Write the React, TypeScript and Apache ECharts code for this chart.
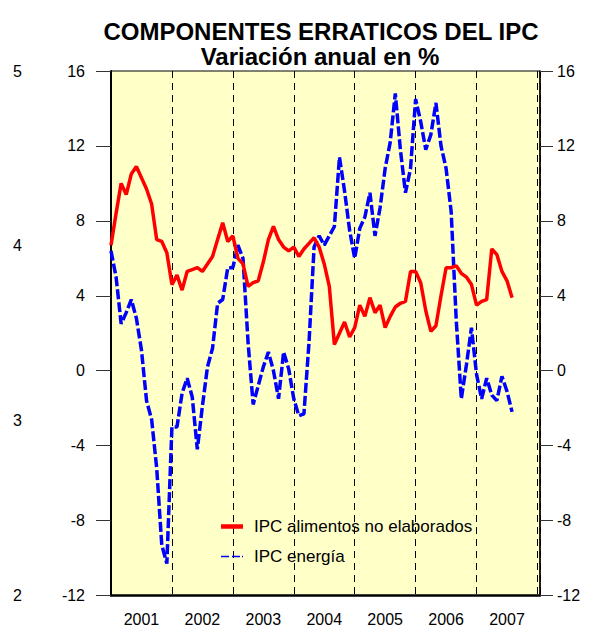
import React, { useEffect, useRef } from 'react';
import * as echarts from 'echarts';

const years = ['2001', '2002', '2003', '2004', '2005', '2006', '2007'];

// Monthly values from Jan 2001 (index 0) to Aug 2007
const alimentos = [
  6.7, 8.4, 10.0, 9.4, 10.5, 10.9, 10.3, 9.7, 8.9, 7.0,
  6.9, 6.3, 4.6, 5.1, 4.3, 5.3, 5.4, 5.5, 5.3, 5.7,
  6.1, 7.0, 7.9, 6.9, 7.2, 6.0, 5.7, 4.5, 4.7, 4.8,
  5.8, 7.0, 7.7, 7.0, 6.6, 6.4, 6.6, 6.1, 6.5, 6.8,
  7.1, 6.6, 5.7, 4.5, 1.4, 2.0, 2.6, 1.8, 2.3, 3.5,
  2.9, 3.9, 3.1, 3.5, 2.3, 2.9, 3.4, 3.6, 3.7, 5.3,
  5.3, 4.7, 3.2, 2.1, 2.4, 4.0, 5.5, 5.5, 5.6, 5.2,
  5.0, 4.6, 3.5, 3.7, 3.8, 6.5, 6.2, 5.3, 4.8, 3.9,
];

const energia = [
  6.4, 5.0, 2.5, 3.1, 3.8, 2.8, 1.1, -1.6, -2.6, -5.2,
  -9.3, -10.3, -3.0, -3.0, -1.2, -0.4, -1.4, -4.2, -1.9, 0.2,
  1.2, 3.6, 3.8, 5.5, 5.5, 6.7, 6.0, 1.5, -1.8, -0.8,
  0.2, 1.0, 0.0, -1.5, 1.0, 0.1, -1.5, -2.4, -2.3, 1.5,
  6.6, 7.2, 6.7, 7.2, 7.7, 11.4, 9.6, 7.5, 6.0, 7.6,
  8.2, 9.5, 7.2, 8.7, 10.8, 12.2, 14.8, 11.8, 9.5, 10.8,
  14.5, 13.3, 11.8, 12.6, 14.3, 12.0, 10.8, 8.5, 2.7, -1.5,
  0.3, 2.3, -0.2, -1.5, -0.4, -1.3, -1.6, -0.3, -1.1, -2.2,
];

const serieAlimentos = 'IPC alimentos no elaborados';
const serieEnergia = 'IPC energía';

const FONT = '"Liberation Sans", Arial, sans-serif';

export default function App() {
  const ref = useRef<HTMLDivElement>(null);

  useEffect(() => {
    const chart = echarts.init(ref.current!, null, { renderer: 'svg' });
    chart.setOption({
      animation: false,
      backgroundColor: '#ffffff',
      textStyle: { fontFamily: FONT },
      graphic: [
        {
          type: 'text',
          x: 321,
          y: 31,
          style: {
            text: 'COMPONENTES ERRATICOS DEL IPC',
            fontSize: 24,
            fontWeight: 'bold',
            fontFamily: FONT,
            fill: '#000',
            align: 'center',
            verticalAlign: 'middle',
          },
        },
        {
          type: 'text',
          x: 320,
          y: 56,
          style: {
            text: 'Variación anual en %',
            fontSize: 24,
            fontWeight: 'bold',
            fontFamily: FONT,
            fill: '#000',
            align: 'center',
            verticalAlign: 'middle',
          },
        },
      ],
      grid: {
        left: 111,
        right: 52,
        top: 71,
        bottom: 32.5,
        show: true,
        backgroundColor: '#FFFFC8',
        borderColor: '#000',
        borderWidth: 1,
      },
      legend: {
        orient: 'vertical',
        left: 216,
        top: 513,
        itemGap: 13,
        itemWidth: 22,
        itemHeight: 14,
        symbolKeepAspect: true,
        textStyle: { fontSize: 17, color: '#000', fontFamily: FONT, padding: [0, 0, 0, 6] },
        data: [
          { name: serieAlimentos, icon: 'path://M0,0H22V4.5H0Z' },
          {
            name: serieEnergia,
            icon: 'path://M0,0H8V1.5H0Z M11,0H19V1.5H11Z M21,0H22V1.5H21Z',
          },
        ],
      },
      xAxis: [
        {
          type: 'value',
          min: 0,
          max: 84.5,
          interval: 12,
          position: 'bottom',
          axisLine: { show: true, onZero: false, lineStyle: { color: '#000', width: 2.5 } },
          axisTick: { show: false },
          axisLabel: { show: false },
          splitLine: { show: true, lineStyle: { color: '#000', width: 1, type: [7, 5] } },
        },
        {
          type: 'value',
          min: 0,
          max: 84.5,
          interval: 6,
          position: 'bottom',
          axisLine: { show: false },
          axisTick: { show: false },
          splitLine: { show: false },
          axisLabel: {
            show: true,
            margin: 16,
            fontSize: 16,
            color: '#000',
            fontFamily: FONT,
            formatter: (v: number) => {
              const r = Math.round(v);
              return r % 12 === 6 ? years[(r - 6) / 12] : '';
            },
          },
        },
      ],
      yAxis: [
        {
          type: 'value',
          min: -12,
          max: 16,
          interval: 4,
          position: 'left',
          axisLine: { show: true, onZero: false, lineStyle: { color: '#000', width: 2 } },
          axisTick: { show: true, length: 15, lineStyle: { color: '#333', width: 1 } },
          axisLabel: { margin: 26, fontSize: 16, color: '#000', fontFamily: FONT },
          splitLine: { show: false },
        },
        {
          type: 'value',
          min: -12,
          max: 16,
          interval: 4,
          position: 'right',
          axisLine: { show: true, onZero: false, lineStyle: { color: '#000', width: 1.5 } },
          axisTick: { show: true, length: 13, lineStyle: { color: '#333', width: 1 } },
          axisLabel: { margin: 17, fontSize: 16, color: '#000', fontFamily: FONT },
          splitLine: { show: false },
        },
        {
          type: 'value',
          min: 2,
          max: 5,
          interval: 1,
          position: 'left',
          offset: 81,
          axisLine: { show: false },
          axisTick: { show: false },
          splitLine: { show: false },
          axisLabel: { margin: 8, fontSize: 16, color: '#000', fontFamily: FONT },
        },
      ],
      series: [
        {
          name: serieEnergia,
          type: 'line',
          xAxisIndex: 0,
          yAxisIndex: 0,
          data: energia.map((v, i) => [i, v]),
          symbol: 'none',
          itemStyle: { color: '#0000FF' },
          lineStyle: { color: '#0000FF', width: 3.5, type: [10, 3] },
          z: 2,
        },
        {
          name: serieAlimentos,
          type: 'line',
          xAxisIndex: 0,
          yAxisIndex: 0,
          data: alimentos.map((v, i) => [i, v]),
          symbol: 'none',
          itemStyle: { color: '#FF0000' },
          lineStyle: { color: '#FF0000', width: 3.5 },
          z: 3,
        },
      ],
    });
    return () => chart.dispose();
  }, []);

  return (
    <div
      ref={ref}
      style={{ position: 'fixed', left: 0, top: 0, width: 592, height: 628 }}
    />
  );
}
